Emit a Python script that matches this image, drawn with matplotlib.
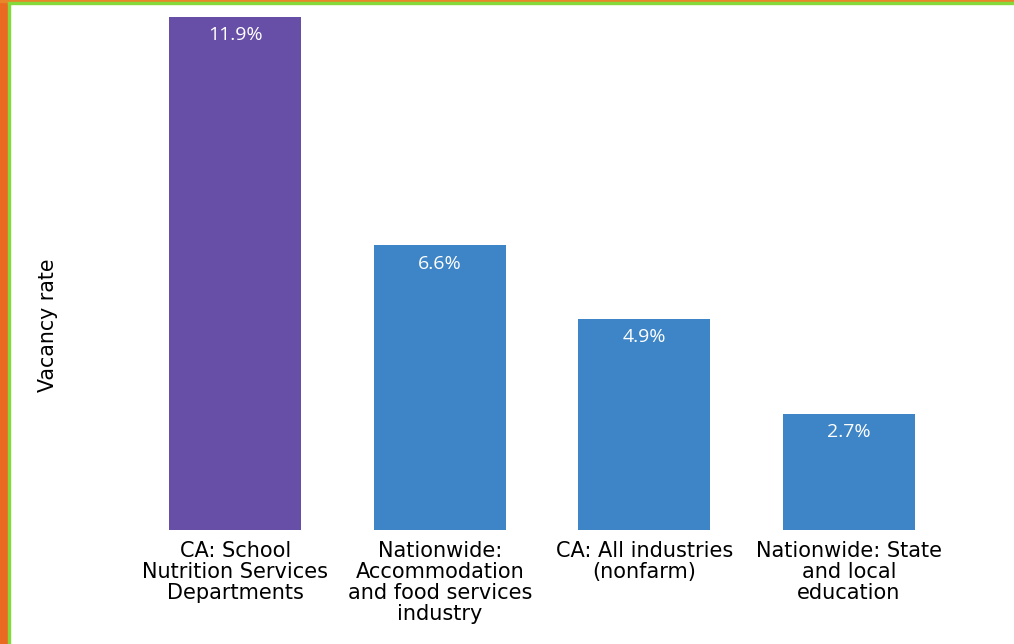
import matplotlib
matplotlib.use("Agg")
import matplotlib.pyplot as plt
from matplotlib.patches import Rectangle

categories = ["CA: School\nNutrition Services\nDepartments",
              "Nationwide:\nAccommodation\nand food services\nindustry",
              "CA: All industries\n(nonfarm)",
              "Nationwide: State\nand local\neducation"]
values = [11.9, 6.6, 4.9, 2.7]
labels = ["11.9%", "6.6%", "4.9%", "2.7%"]
colors = ["#674ea7", "#3d85c6", "#3d85c6", "#3d85c6"]

W, H = 1014, 644
fig = plt.figure(figsize=(W/100, H/100), dpi=100)
fig.patch.set_facecolor("white")

ax = fig.add_axes([133/W, 1-530/H, 818/W, 513/H])
x = range(len(values))
ax.bar(x, values, width=0.645, color=colors)
ax.set_xlim(-0.5, 3.5)
ax.set_ylim(0, 11.9)
for s in ax.spines.values():
    s.set_visible(False)
ax.set_yticks([])
ax.set_xticks(list(x))
ax.set_xticklabels(categories, fontsize=15, linespacing=1.07, family="DejaVu Sans")
ax.tick_params(axis="x", length=0, pad=8)
for xi, v, lab in zip(x, values, labels):
    ax.annotate(lab, (xi, v), xytext=(0, -13), textcoords="offset points",
                ha="center", va="center", color="white", fontsize=14,
                family="Open Sans")

fig.text(48/W, 1-325/H, "Vacancy rate", rotation=90, ha="center", va="center",
         fontsize=14.8, family="DejaVu Sans")

# frame decorations
fig.patches.append(Rectangle((0, 0), 8/W, 1, transform=fig.transFigure,
                             color="#ea6a22", zorder=5))
fig.patches.append(Rectangle((8/W, 0), 2/W, 1, transform=fig.transFigure,
                             color="#86d93a", zorder=5))
fig.patches.append(Rectangle((0, 1-2/H), 1, 2/H, transform=fig.transFigure,
                             color="#e8862a", zorder=5))
fig.patches.append(Rectangle((8/W, 1-4/H), 1, 2/H, transform=fig.transFigure,
                             color="#86d93a", zorder=5))

fig.savefig("out.png", dpi=100)
